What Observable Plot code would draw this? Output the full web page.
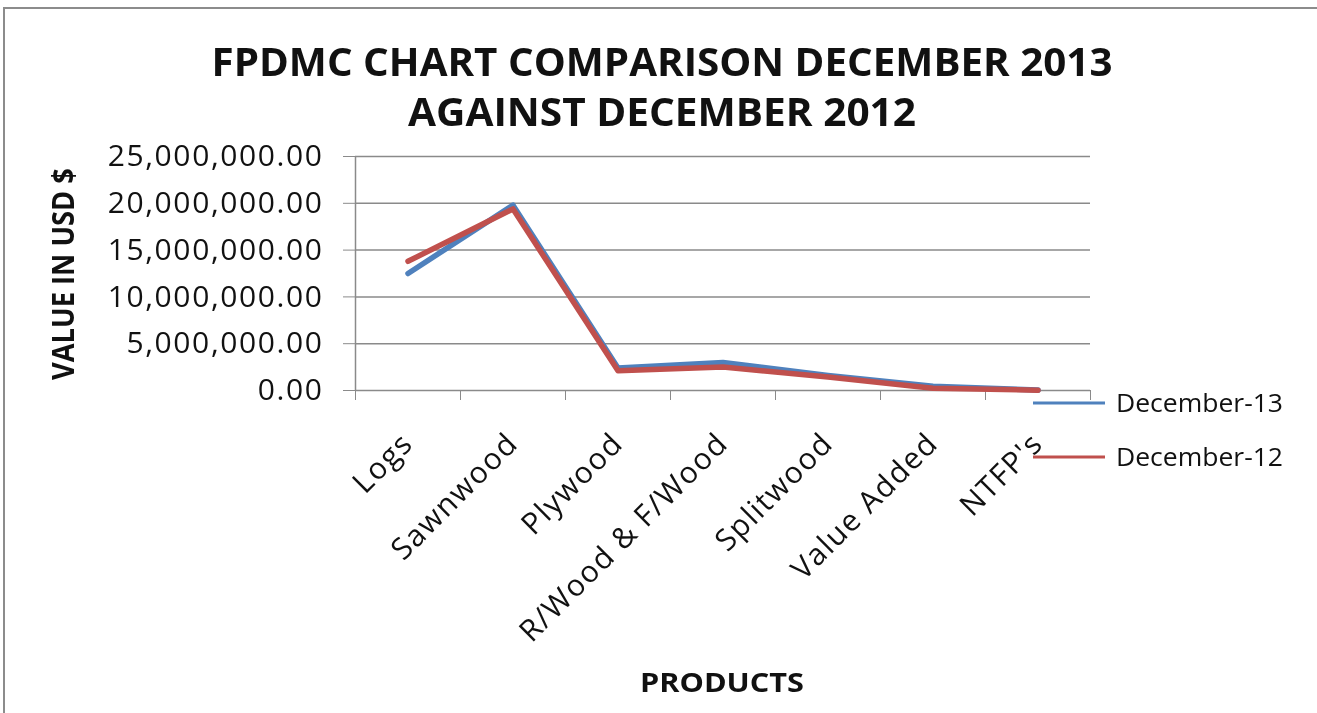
<!DOCTYPE html>
<html><head><meta charset="utf-8">
<script src="https://cdn.jsdelivr.net/npm/d3@7"></script>
<script src="https://cdn.jsdelivr.net/npm/@observablehq/plot@0.6"></script>
<style>
html,body{margin:0;padding:0;width:1317px;height:713px;background:#fff;overflow:hidden;scrollbar-width:none}
::-webkit-scrollbar{display:none;width:0;height:0}
#wrap{position:fixed;left:0;top:0;width:1317px;height:713px;font-family:"Open Sans",sans-serif;color:#111;overflow:hidden}
.edge{position:absolute;background:#8c8c8c}
#chart{position:absolute;left:0;top:0;line-height:0}
#chart svg{display:block}
#overlay{position:absolute;left:0;top:0;display:block}
</style></head>
<body>
<div id="wrap">
<div class="edge" style="left:3px;top:7px;width:1314px;height:2px"></div>
<div class="edge" style="left:3px;top:7px;width:2px;height:706px"></div>
<div id="chart"></div>
<svg id="overlay" width="1317" height="713" font-family="Open Sans, sans-serif" fill="#111">
  <text x="662" y="76" text-anchor="middle" font-weight="bold" font-size="39" textLength="901" lengthAdjust="spacingAndGlyphs">FPDMC CHART COMPARISON  DECEMBER 2013</text>
  <text x="662" y="126" text-anchor="middle" font-weight="bold" font-size="39" textLength="508" lengthAdjust="spacingAndGlyphs">AGAINST DECEMBER 2012</text>
  <text transform="translate(74,274) rotate(-90)" text-anchor="middle" font-weight="bold" font-size="31" textLength="212" lengthAdjust="spacingAndGlyphs">VALUE IN USD $</text>
  <text x="722" y="692" text-anchor="middle" font-weight="bold" font-size="27" textLength="164" lengthAdjust="spacingAndGlyphs">PRODUCTS</text>
  <g id="legend"></g>
</svg>
</div>
<script>
const products = ["Logs","Sawnwood","Plywood","R/Wood & F/Wood","Splitwood","Value Added","NTFP's"];
const dec13 = [12500000, 19800000, 2400000, 3000000, 1600000, 450000, 50000];
const dec12 = [13800000, 19400000, 2100000, 2500000, 1450000, 250000, 30000];
const seriesNames = ["December-13","December-12"];
const seriesColors = ["#4F81BD","#C0504D"];
const yTicks = [0, 5000000, 10000000, 15000000, 20000000, 25000000];

const rows = [];
[dec13, dec12].forEach((vals, s) => vals.forEach((v, i) => rows.push({series: seriesNames[s], pos: i + 0.5, value: v})));

const chart = Plot.plot({
  width: 1317, height: 713,
  marginLeft: 355, marginRight: 227, marginTop: 156, marginBottom: 323,
  style: {fontFamily: "Open Sans, sans-serif", fontSize: "29px", color: "#111", background: "transparent", overflow: "visible"},
  x: {domain: [0, products.length]},
  y: {domain: [0, 25000000]},
  color: {domain: seriesNames, range: seriesColors},
  marks: [
    Plot.gridY(yTicks, {stroke: "#8a8a8a", strokeOpacity: 1, strokeWidth: 1.5}),
    Plot.ruleX([0], {stroke: "#8a8a8a", strokeWidth: 1.5}),
    Plot.axisY(yTicks, {tickSize: 12, tickPadding: 20, tickFormat: d3.format(",.2f"), stroke: "#8a8a8a", fill: "#111", fontSize: 30, label: null}),
    Plot.axisX(d3.range(products.length + 1), {tickSize: 10, tickFormat: () => "", stroke: "#8a8a8a", label: null}),
    Plot.axisX(products.map((d, i) => i + 0.5), {tickSize: 0, tickPadding: 48, dx: 0, tickRotate: -45, tickFormat: d => products[Math.round(d - 0.5)], fill: "#111", fontSize: 30, label: null}),
    Plot.line(rows, {x: "pos", y: "value", z: "series", stroke: "series", strokeWidth: 5.5, strokeLinejoin: "round", strokeLinecap: "round"})
  ]
});
d3.select(chart).selectAll('[aria-label="y-axis tick label"] text').attr("letter-spacing", "1.6px");
d3.select(chart).selectAll('[aria-label="x-axis tick label"] text').attr("letter-spacing", "1.5px");
document.getElementById("chart").appendChild(chart);

const legend = d3.select("#legend");
const legendY = [403, 457];
seriesNames.forEach((name, i) => {
  legend.append("line").attr("x1", 1033).attr("x2", 1105).attr("y1", legendY[i]).attr("y2", legendY[i])
    .attr("stroke", seriesColors[i]).attr("stroke-width", 3);
  legend.append("text").attr("x", 1116).attr("y", legendY[i] + 9).attr("font-size", 25)
    .attr("textLength", 167).attr("lengthAdjust", "spacingAndGlyphs").text(name);
});
</script>
</body></html>
